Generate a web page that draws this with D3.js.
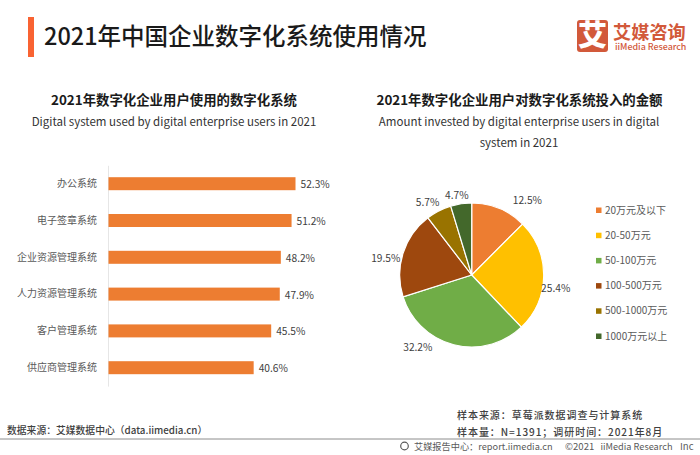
<!DOCTYPE html>
<html>
<head>
<meta charset="utf-8">
<script src="https://cdn.jsdelivr.net/npm/d3@7"></script>
<style>
html,body{margin:0;padding:0;background:#fff}
text{font-family:"Noto Sans CJK SC","Noto Sans",sans-serif}
</style>
</head>
<body>
<script>
const systems = ["办公系统","电子签章系统","企业资源管理系统","人力资源管理系统","客户管理系统","供应商管理系统"]
const systemValues = [52.3,51.2,48.2,47.9,45.5,40.6]

const amounts = ["20万元及以下","20-50万元","50-100万元","100-500万元","500-1000万元","1000万元以上"]
const amountValues = [12.5,25.4,32.2,19.5,5.7,4.7]
const amountColors = ["#ed7d31","#ffc000","#70ad47","#9e480e","#997300","#43682b"]

// hand placed pie labels, offset from the arc centroid
const labelNudge = [[22,7],[-4,12],[-32,-13],[-2,9.5],[-4,6],[-2,8]]

const svg = d3.select("body")
              .append("svg")
              .attr("width",700)
              .attr("height",455)
              .style("display","block")

function addText(x,y,str,size,color,weight,anchor,spacing){
    return svg.append("text")
              .attr("x",x)
              .attr("y",y)
              .attr("font-size",size)
              .attr("fill",color)
              .attr("font-weight",weight || 400)
              .attr("text-anchor",anchor || "start")
              .attr("letter-spacing",spacing || 0)
              .text(str)
}

// header
svg.append("rect").attr("x",28).attr("y",17).attr("width",6).attr("height",40).attr("fill","#f96332")
addText(44,44.5,"2021年中国企业数字化系统使用情况",23.5,"#1a1a1a",500)

// logo
svg.append("rect").attr("x",577).attr("y",20).attr("width",31).attr("height",32).attr("rx",3).attr("fill","#d2593a")
addText(592.5,46,"艾",29,"#fff",900,"middle")
addText(613,39,"艾媒咨询",18.2,"#d2593a",700)
addText(615,50,"iiMedia Research",8.9,"#d2593a",500)

// sub titles
addText(174,105,"2021年数字化企业用户使用的数字化系统",13.4,"#1a1a1a",700,"middle")
addText(174,126,"Digital system used by digital enterprise users in 2021",11.5,"#333",400,"middle")
addText(519.5,105,"2021年数字化企业用户对数字化系统投入的金额",13.4,"#1a1a1a",700,"middle")
addText(519,126,"Amount invested by digital enterprise users in digital",11.5,"#333",400,"middle")
addText(519,147,"system in 2021",11.5,"#333",400,"middle")

// bars
const xscale = d3.scaleLinear()
                 .domain([0,52.3])
                 .range([108.5,295.5])

const yscale = d3.scaleBand()
                 .domain(systems)
                 .range([165.3,386.1])
                 .paddingInner(0.647)
                 .paddingOuter(0.3235)

const axeygroupe = svg.append("g")
                      .attr("transform","translate(108,0)")
                      .call(d3.axisLeft(yscale).tickSize(0).tickPadding(11))
axeygroupe.select(".domain").attr("stroke","#e6e6e6")
axeygroupe.selectAll("text")
          .attr("font-size",10)
          .attr("fill","#595959")
          .style("font-family",'"Noto Sans CJK SC"')

svg.selectAll(".bar")
   .data(systemValues)
   .enter()
   .append("rect")
   .attr("class","bar")
   .attr("x",xscale(0))
   .attr("y",(d,i) => yscale(systems[i]))
   .attr("width",d => xscale(d)-xscale(0))
   .attr("height",yscale.bandwidth())
   .attr("fill","#ed7d31")

svg.selectAll(".barlabel")
   .data(systemValues)
   .enter()
   .append("text")
   .attr("class","barlabel")
   .attr("x",d => xscale(d)+5)
   .attr("y",(d,i) => yscale(systems[i])+yscale.bandwidth()/2+4.5)
   .attr("font-size",10.2)
   .attr("fill","#404040")
   .text(d => d.toFixed(1)+"%")

// pie
const pie = d3.pie().sort(null)
const arc = d3.arc().innerRadius(0).outerRadius(72)
const labelArc = d3.arc().innerRadius(88).outerRadius(88)
const arcs = pie(amountValues)

const piegroupe = svg.append("g")
                     .attr("transform","translate(471.7,275)")

piegroupe.selectAll("path")
         .data(arcs)
         .enter()
         .append("path")
         .attr("d",arc)
         .attr("fill",(d,i) => amountColors[i])
         .attr("stroke","#fff")
         .attr("stroke-width",1.2)

piegroupe.selectAll("text")
         .data(arcs)
         .enter()
         .append("text")
         .attr("x",(d,i) => labelArc.centroid(d)[0]+labelNudge[i][0])
         .attr("y",(d,i) => labelArc.centroid(d)[1]+labelNudge[i][1]+3.5)
         .attr("text-anchor","middle")
         .attr("font-size",10.2)
         .attr("fill","#404040")
         .text(d => d.value.toFixed(1)+"%")

// legend
const legendy = d3.scalePoint()
                  .domain(amounts)
                  .range([210,336])

const legend = svg.selectAll(".legend")
                  .data(amounts)
                  .enter()
                  .append("g")
                  .attr("class","legend")
                  .attr("transform",d => "translate(596,"+legendy(d)+")")
legend.append("rect")
      .attr("x",0)
      .attr("y",-2.5)
      .attr("width",5.5)
      .attr("height",5.5)
      .attr("fill",(d,i) => amountColors[i])
legend.append("text")
      .attr("x",9)
      .attr("y",3.5)
      .attr("font-size",10)
      .attr("fill","#595959")
      .text(d => d)

// footer
addText(7,433.5,"数据来源\uFF1A艾媒数据中心\uFF08data.iimedia.cn\uFF09",9.8,"#404040",500)
addText(457,419,"样本来源\uFF1A草莓派数据调查与计算系统",10,"#404040",500,"start",0.95)
addText(457,436,"样本量\uFF1AN=1391\uFF1B调研时间\uFF1A2021年8月",10,"#404040",500,"start",0.95)
svg.append("line").attr("x1",0).attr("x2",700).attr("y1",439).attr("y2",439).attr("stroke","#8c8c8c").attr("stroke-width",1)
svg.append("circle").attr("cx",404.5).attr("cy",446).attr("r",3.8).attr("fill","none").attr("stroke","#595959").attr("stroke-width",1.2)
addText(414,450,"艾媒报告中心\uFF1Areport.iimedia.cn",9.2,"#595959")
addText(565,450,"©2021",9.6,"#595959")
addText(600.5,450,"iiMedia Research",9.2,"#595959")
addText(680,450,"Inc",9.6,"#595959")
</script>
</body>
</html>
